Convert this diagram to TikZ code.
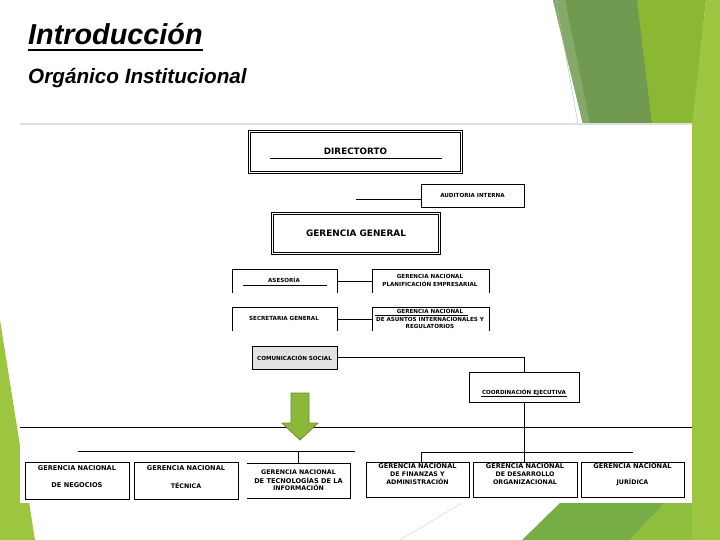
\documentclass[tikz,border=0pt]{standalone}
\usepackage{fontspec}
\setmainfont{DejaVu Sans}
\newfontfamily\titlefont{Liberation Sans}
\definecolor{gDark}{HTML}{6F9A4F}
\definecolor{gMid}{HTML}{8AB833}
\definecolor{gLight}{HTML}{9CC63F}
\definecolor{gBot}{HTML}{76AD47}
\definecolor{gBot2}{HTML}{8DBF3C}
\definecolor{arrFill}{HTML}{8CB83A}
\definecolor{arrLine}{HTML}{6B8E2A}
\definecolor{boxGray}{HTML}{E2E2E2}
\begin{document}
\begin{tikzpicture}[x=1pt,y=-1pt,
  ln/.style={line width=0.9pt},
  bx/.style={draw, line width=0.9pt, fill=white, inner sep=0pt, outer sep=0pt},
  nb/.style={inner sep=0pt, outer sep=0pt},
  dbl/.style={draw, double, line width=0.8pt, double distance=1.8pt, inner sep=0pt, outer sep=0pt},
  lb/.style={inner sep=0pt, align=center},
  fB/.style={font=\fontsize{6.6}{7}\selectfont\bfseries},
  fR/.style={font=\fontsize{6.3}{7}\selectfont\bfseries},
  fS/.style={font=\fontsize{5.6}{6}\selectfont\bfseries},
  fSR/.style={font=\fontsize{5.6}{6}\selectfont\bfseries},
  fBig/.style={font=\fontsize{8.8}{10}\selectfont\bfseries},
]
\useasboundingbox (0,0) rectangle (720,540);
\fill[white] (0,0) rectangle (720,540);
% background facets
\fill[gDark] (553,0) -- (640,0) -- (655,124) -- (583,124) -- cycle;
\fill[gDark!85!white] (553,0) -- (565,0) -- (590,124) -- (583,124) -- cycle;
\fill[gMid] (637,0) -- (706,0) -- (693,124) -- (652,124) -- cycle;
\fill[gLight] (706,0) -- (720,0) -- (720,540) -- (692,540) -- (692,124) -- cycle;
\fill[gLight] (0,320) -- (35,540) -- (0,540) -- cycle;
\fill[gBot] (522,540) -- (560,503) -- (665,503) -- (630,540) -- cycle;
\fill[gBot2] (630,540) -- (665,503) -- (692,503) -- (692,540) -- cycle;
\draw[gray!60, line width=0.4pt] (556,0) -- (578,124);
\draw[gray!45, line width=0.3pt] (400,540) -- (462,503);
% chart area
\fill[white] (20,124) rectangle (692,503);
\draw[gray!25, line width=1.5pt] (20,124) -- (692,124);
% titles
\node[lb, anchor=base west, font=\titlefont\fontsize{28.8}{30}\selectfont\bfseries\itshape] (ttl) at (28,45) {Introducción};
\draw[line width=1.8pt] ([yshift=-5pt]ttl.base west) -- ([yshift=-5pt]ttl.base east);
\node[lb, anchor=base west, font=\titlefont\fontsize{20.7}{22}\selectfont\bfseries\itshape] (sub) at (28,84) {Orgánico Institucional};
% top boxes
\node[dbl, minimum width=212pt, minimum height=41pt] (dir) at (355.5,152) {};
\node[lb, fBig] (tdir) at (355.5,151) {DIRECTORTO};
\draw[ln] (270,158) -- (442,158);
\node[bx, minimum width=103pt, minimum height=23pt] (aud) at (472.5,195.5) {};
\node[lb, fSR] (taud) at (aud) {AUDITORIA INTERNA};
\coordinate (audL) at (356,199);
\draw[ln] (audL) -- (audL -| aud.west);
\node[dbl, minimum width=167pt, minimum height=40pt] (gg) at (356,233.5) {};
\node[lb, font=\fontsize{8.9}{10}\selectfont\bfseries] (tgg) at (356,233) {GERENCIA GENERAL};
% asesoria / planificacion
\node[nb, minimum width=105pt, minimum height=24pt] (ase) at (284.5,281) {};
\draw[ln] (ase.south west) -- (ase.north west) -- (ase.north east) -- (ase.south east);
\node[lb, fSR] (tase) at (284,280) {ASESORÍA};
\draw[ln] (243,285.5) -- (327,285.5);
\node[nb, minimum width=117pt, minimum height=24pt] (pla) at (430.5,281) {};
\draw[ln] (pla.south west) -- (pla.north west) -- (pla.north east) -- (pla.south east);
\node[lb, fS] (tpla1) at (430,276) {GERENCIA NACIONAL};
\node[lb, fS] (tpla2) at (430,283.5) {PLANIFICACIÓN EMPRESARIAL};
\draw[ln] (ase.east) -- (pla.west);
% secretaria / asuntos
\node[nb, minimum width=105pt, minimum height=24pt] (sec) at (284.5,319) {};
\draw[ln] (sec.south west) -- (sec.north west) -- (sec.north east) -- (sec.south east);
\node[lb, fSR] (tsec) at (284,318) {SECRETARIA GENERAL};
\node[nb, minimum width=117pt, minimum height=24pt] (asu) at (430.5,319) {};
\draw[ln] (asu.south west) -- (asu.north west) -- (asu.north east) -- (asu.south east);
\node[lb, fS] (tasu1) at (430,311) {GERENCIA NACIONAL};
\draw[line width=0.5pt] (375,314.8) -- (468,314.8);
\node[lb, fSR] (tasu2) at (430,319) {DE ASUNTOS INTERNACIONALES Y};
\node[lb, fS] (tasu3) at (430,326) {REGULATORIOS};
\draw[ln] (sec.east) -- (asu.west);
% comunicacion / coordinacion
\node[bx, fill=boxGray, minimum width=85pt, minimum height=23pt] (com) at (294.5,357.5) {};
\node[lb, fSR] (tcom) at (com) {COMUNICACIÓN SOCIAL};
\node[bx, minimum width=110pt, minimum height=30pt] (coo) at (524,387) {};
\node[lb, fSR] (tcoo) at (524,392) {COORDINACIÓN EJECUTIVA};
\draw[line width=0.5pt] (481,396.5) -- (567,396.5);
\draw[ln] (com.east) -| (coo.north);
% horizontal lines
\coordinate (hA) at (20,427);
\coordinate (hB) at (692,427);
\draw[ln] (hA) -- (hB);
\coordinate (lA) at (78,451);
\coordinate (lB) at (355,451);
\draw[ln] (lA) -- (lB);
\coordinate (rA) at (421,452);
\coordinate (rB) at (633,452);
\draw[ln] (rA) -- (rB);
% arrow
\fill[arrFill, draw=arrLine, line width=0.8pt, line join=miter] (291,393) -- (309,393) -- (309,423) -- (318,423) -- (300,440) -- (282,423) -- (291,423) -- cycle;
% bottom boxes
\node[bx, minimum width=104pt, minimum height=37pt] (neg) at (77,480.5) {};
\node[lb, fB] (tneg1) at (77,468) {GERENCIA NACIONAL};
\node[lb, fB] (tneg2) at (77,485) {DE NEGOCIOS};
\node[bx, minimum width=104pt, minimum height=37pt] (tec) at (186,480.5) {};
\node[lb, fB] (ttec1) at (186,468) {GERENCIA NACIONAL};
\node[lb, fR] (ttec2) at (186,486) {TÉCNICA};
\node[nb, minimum width=103pt, minimum height=35pt] (ti) at (298.5,480.5) {};
\draw[ln] (ti.north west) -- (ti.north east) -- (ti.south east) -- (ti.south west);
\node[lb, fR] (tti1) at (298.5,472) {GERENCIA NACIONAL};
\node[lb, fB] (tti2) at (298.5,480) {DE TECNOLOGÍAS DE LA};
\node[lb, fR] (tti3) at (298.5,488) {INFORMACIÓN};
\node[bx, minimum width=103pt, minimum height=35pt] (fin) at (417.5,479.5) {};
\node[lb, fB] (tfin1) at (417.5,466) {GERENCIA NACIONAL};
\node[lb, fR] (tfin2) at (417.5,474) {DE FINANZAS Y};
\node[lb, fR] (tfin3) at (417.5,482) {ADMINISTRACIÓN};
\node[bx, minimum width=104pt, minimum height=35pt] (des) at (525,479.5) {};
\node[lb, fB] (tdes1) at (525,466) {GERENCIA NACIONAL};
\node[lb, fR] (tdes2) at (525,474) {DE DESARROLLO};
\node[lb, fR] (tdes3) at (525,482) {ORGANIZACIONAL};
\node[bx, minimum width=103pt, minimum height=35pt] (jur) at (632.5,479.5) {};
\node[lb, fB] (tjur1) at (632.5,466) {GERENCIA NACIONAL};
\node[lb, fR] (tjur2) at (632.5,482) {JURÍDICA};
% verticals
\draw[ln] (coo.south) -- (coo.south |- des.north);
\draw[ln] (rA) -- (rA |- fin.north);
\coordinate (tiTop) at (298,451);
\draw[ln] (tiTop) -- (tiTop |- ti.north);
\end{tikzpicture}
\end{document}
